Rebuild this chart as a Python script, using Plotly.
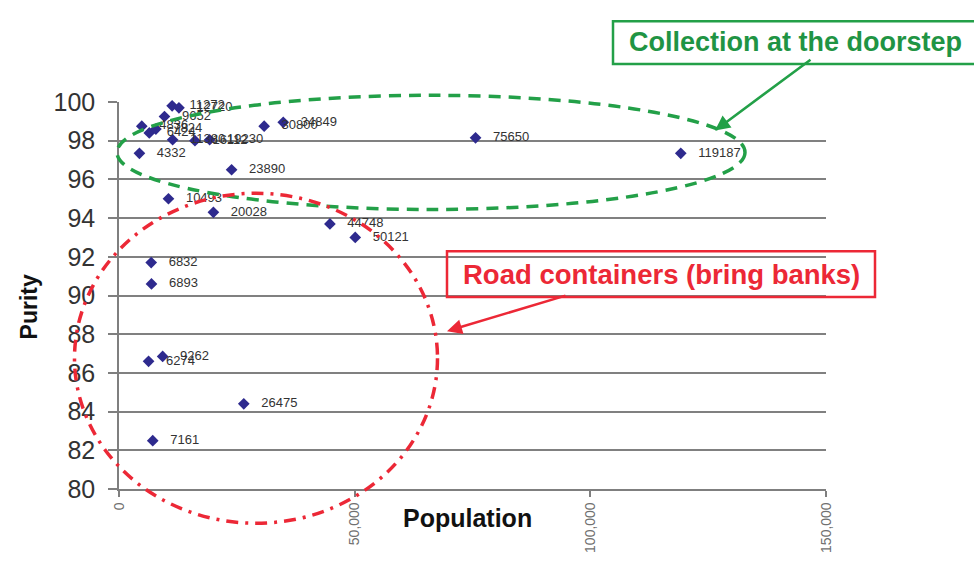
import plotly.graph_objects as go

# ---- data ----
population = [119187, 75650, 50121, 44748, 26475, 23890, 20028, 10493,
              6832, 6893, 9262, 6274, 7161, 4332, 30800, 34849,
              11272, 12720, 9652, 4836, 6424, 7824, 11380, 16112, 19230]
purity = [97.35, 98.15, 93.0, 93.7, 84.4, 96.5, 94.3, 95.0,
          91.7, 90.6, 86.85, 86.6, 82.5, 97.35, 98.75, 98.95,
          99.8, 99.7, 99.25, 98.75, 98.4, 98.6, 98.05, 98.0, 98.05]
point_labels = ["119187", "75650", "50121", "44748", "26475", "23890", "20028", "10493",
                "6832", "6893", "9262", "6274", "7161", "4332", "30800", "34849",
                "11272", "12720", "9652", "4836", "6424", "7824", "11380", "16112", "19230"]

x_ticks = [0, 50000, 100000, 150000]
x_tick_text = ["0", "50,000", "100,000", "150,000"]
y_ticks = [80, 82, 84, 86, 88, 90, 92, 94, 96, 98, 100]

# ---- layout geometry ----
W, H = 974, 565
L, R, T, B = 119, 148, 102, 56
PW, PH = W - L - R, H - T - B

def px(x):
    return (x - L) / PW

def py(y):
    return (H - B - y) / PH

fig = go.Figure()
fig.add_trace(go.Scatter(
    x=population, y=purity, mode="markers+text",
    text=point_labels, texttemplate="   %{text}", textposition="middle right",
    textfont=dict(family="Liberation Sans, Arial", size=13, color="#333333"),
    marker=dict(symbol="diamond", size=9, color="#2e2a8e"),
    cliponaxis=False, showlegend=False, hoverinfo="skip"))

GREEN = "#23a048"
RED = "#ec2836"

shapes = [
    # green dashed ellipse ("Collection at the doorstep")
    dict(type="circle", xref="paper", yref="paper",
         x0=px(117), x1=px(745), y0=py(215), y1=py(95),
         line=dict(color=GREEN, width=3.5, dash="12px,8px")),
    # red dash-dot ellipse ("Road containers")
    dict(type="circle", xref="paper", yref="paper",
         x0=px(74.5), x1=px(437.5), y0=py(545), y1=py(198),
         line=dict(color=RED, width=3.5, dash="12px,7px,3px,7px")),
    # label boxes
    dict(type="rect", xref="paper", yref="paper",
         x0=px(613), x1=px(978), y0=py(62), y1=py(17),
         line=dict(color=GREEN, width=2.5)),
    dict(type="rect", xref="paper", yref="paper",
         x0=px(447), x1=px(875), y0=py(307), y1=py(259),
         line=dict(color=RED, width=2.5)),
]

annotations = [
    dict(text="<b>Collection at the doorstep</b>", xref="paper", yref="paper",
         x=px(795), y=py(39), showarrow=False, xanchor="center", yanchor="middle",
         font=dict(family="Liberation Sans, Arial", size=27, color="#1f9444")),
    dict(text="<b>Road containers (bring banks)</b>", xref="paper", yref="paper",
         x=px(661), y=py(283), showarrow=False, xanchor="center", yanchor="middle",
         font=dict(family="Liberation Sans, Arial", size=27.5, color=RED)),
    # arrows
    dict(text="", xref="paper", yref="paper", x=px(715), y=py(132),
         ax=812 - 715, ay=60 - 132, axref="pixel", ayref="pixel",
         showarrow=True, arrowhead=2, arrowsize=1.2, arrowwidth=2.5, arrowcolor=GREEN),
    dict(text="", xref="paper", yref="paper", x=px(447), y=py(343),
         ax=567 - 447, ay=307 - 343, axref="pixel", ayref="pixel",
         showarrow=True, arrowhead=2, arrowsize=1.2, arrowwidth=2.5, arrowcolor=RED),
    # axis titles
    dict(text="<b>Purity</b>", xref="paper", yref="paper", x=px(29), y=py(318),
         textangle=-90, showarrow=False, xanchor="center", yanchor="middle",
         font=dict(family="Liberation Sans, Arial", size=23, color="#111111")),
    dict(text="<b>Population</b>", xref="paper", yref="paper", x=px(467), y=py(539),
         showarrow=False, xanchor="center", yanchor="middle",
         font=dict(family="Liberation Sans, Arial", size=25, color="#111111")),
]

fig.update_layout(
    width=W, height=H,
    margin=dict(l=L, r=R, t=T, b=B, pad=0),
    paper_bgcolor="white", plot_bgcolor="white",
    shapes=shapes, annotations=annotations,
    xaxis=dict(range=[0, 150000], tickvals=x_ticks, ticktext=x_tick_text,
               tickangle=-90, tickfont=dict(family="Liberation Sans, Arial", size=14, color="#707070"),
               showgrid=False, zeroline=False, showline=True, linecolor="#7f7f7f", linewidth=1.5,
               ticks="outside", ticklen=6, tickcolor="#7f7f7f", tickwidth=1.5),
    yaxis=dict(range=[80, 100], tickvals=y_ticks,
               tickfont=dict(family="Liberation Sans, Arial", size=25, color="#333333"),
               showgrid=True, gridcolor="#808080", gridwidth=1.5, zeroline=False,
               showline=True, linecolor="#7f7f7f", linewidth=1.5,
               ticks="outside", ticklen=9, tickcolor="#7f7f7f", tickwidth=1.5,
               ticklabelstandoff=8),
)

post = (
    "document.documentElement.style.margin='0';"
    "document.body.style.margin='0';"
    "document.body.style.overflow='hidden';"
    "document.documentElement.style.overflow='hidden';"
)

fig.write_html("out.html", config={"displayModeBar": False}, post_script=post)
